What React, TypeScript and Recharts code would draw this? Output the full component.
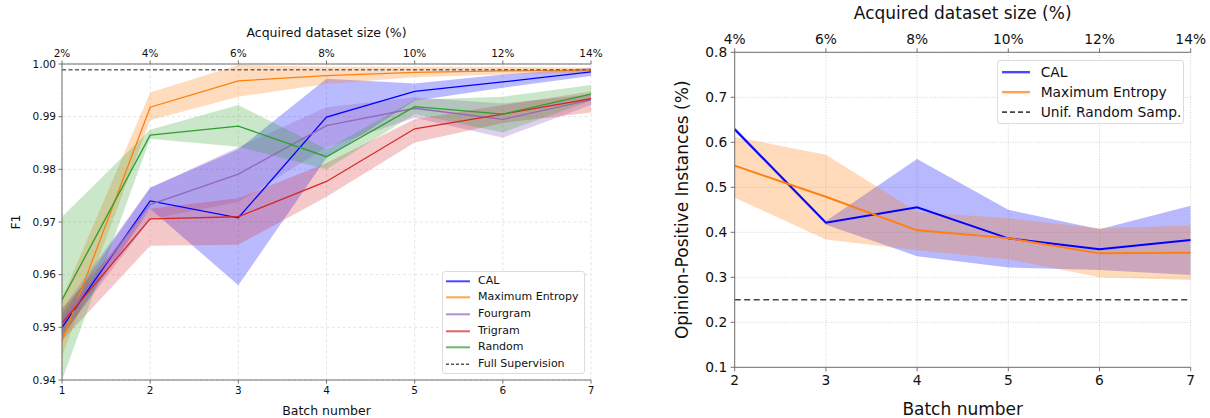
import React from 'react';
import {
  ComposedChart,
  Line,
  Area,
  XAxis,
  YAxis,
  CartesianGrid,
  ReferenceLine,
  Legend,
} from 'recharts';

const FONT = '"DejaVu Sans", Verdana, sans-serif';
const TEXT = '#111111';
const SPINE = '#707070';

// ---------------- Left chart data (F1 per batch) ----------------
const leftBatches = [1, 2, 3, 4, 5, 6, 7];
const leftTopLabels = ['2%', '4%', '6%', '8%', '10%', '12%', '14%'];
const leftYTicks = [0.94, 0.95, 0.96, 0.97, 0.98, 0.99, 1.0];

const calF1 = [0.95, 0.974, 0.9708, 0.9899, 0.9948, 0.9966, 0.9985];
const calF1Low = [0.948, 0.9725, 0.958, 0.9822, 0.993, 0.9955, 0.9977];
const calF1High = [0.9525, 0.9765, 0.9838, 0.9972, 0.9963, 0.998, 0.9993];

const maxEntF1 = [0.9474, 0.9918, 0.9968, 0.9978, 0.9984, 0.9987, 0.9988];
const maxEntF1Low = [0.9445, 0.9893, 0.9938, 0.9962, 0.9975, 0.998, 0.9984];
const maxEntF1High = [0.9555, 0.9946, 0.9998, 0.9995, 0.9995, 0.9995, 0.9993];

const fourgramF1 = [0.9512, 0.9733, 0.9791, 0.9883, 0.9916, 0.9895, 0.9932];
const fourgramF1Low = [0.9485, 0.9705, 0.9738, 0.9842, 0.9898, 0.986, 0.9922];
const fourgramF1High = [0.9535, 0.9765, 0.9842, 0.9918, 0.9937, 0.9925, 0.9942];

const trigramF1 = [0.9508, 0.9706, 0.971, 0.9777, 0.9877, 0.9905, 0.9934];
const trigramF1Low = [0.9475, 0.9655, 0.9657, 0.9748, 0.9851, 0.9888, 0.9908];
const trigramF1High = [0.9535, 0.9725, 0.9745, 0.9812, 0.9895, 0.9922, 0.9948];

const randomF1 = [0.9552, 0.9865, 0.9882, 0.9824, 0.9919, 0.9905, 0.9943];
const randomF1Low = [0.94, 0.9858, 0.9843, 0.98, 0.9905, 0.987, 0.993];
const randomF1High = [0.971, 0.9875, 0.9922, 0.9838, 0.9932, 0.9938, 0.996];

const fullSupervisionF1 = 0.9989;

// ---------------- Right chart data (opinion-positive share) ----------------
const rightBatches = [2, 3, 4, 5, 6, 7];
const rightTopLabels = ['4%', '6%', '8%', '10%', '12%', '14%'];
const rightYTicks = [0.1, 0.2, 0.3, 0.4, 0.5, 0.6, 0.7, 0.8];

const calPos = [0.629, 0.4213, 0.4556, 0.3867, 0.3622, 0.3829];
const calPosLow = [0.624, 0.417, 0.347, 0.322, 0.316, 0.305];
const calPosHigh = [0.634, 0.425, 0.563, 0.45, 0.407, 0.459];

const maxEntPos = [0.548, 0.479, 0.4044, 0.387, 0.3533, 0.3547];
const maxEntPosLow = [0.477, 0.384, 0.36, 0.34, 0.3, 0.294];
const maxEntPosHigh = [0.612, 0.5725, 0.445, 0.431, 0.409, 0.415];

const uniformRandomShare = 0.25;

// ---------------- Series configuration ----------------
type Series = {
  key: string;
  name: string;
  color: string;
  bandOpacity: number;
  mean: number[];
  low: number[];
  high: number[];
};

const leftSeries: Series[] = [
  { key: 'cal', name: 'CAL', color: '#0000ff', bandOpacity: 0.27, mean: calF1, low: calF1Low, high: calF1High },
  { key: 'me', name: 'Maximum Entropy', color: '#ff7f0e', bandOpacity: 0.27, mean: maxEntF1, low: maxEntF1Low, high: maxEntF1High },
  { key: 'four', name: 'Fourgram', color: '#9467bd', bandOpacity: 0.3, mean: fourgramF1, low: fourgramF1Low, high: fourgramF1High },
  { key: 'tri', name: 'Trigram', color: '#d62728', bandOpacity: 0.25, mean: trigramF1, low: trigramF1Low, high: trigramF1High },
  { key: 'rand', name: 'Random', color: '#2ca02c', bandOpacity: 0.25, mean: randomF1, low: randomF1Low, high: randomF1High },
];

const rightSeries: Series[] = [
  { key: 'cal', name: 'CAL', color: '#0000ff', bandOpacity: 0.28, mean: calPos, low: calPosLow, high: calPosHigh },
  { key: 'me', name: 'Maximum Entropy', color: '#ff7f0e', bandOpacity: 0.28, mean: maxEntPos, low: maxEntPosLow, high: maxEntPosHigh },
];

function buildRows(batches: number[], series: Series[]) {
  return batches.map((b, i) => {
    const row: Record<string, any> = { batch: b };
    series.forEach((s) => {
      row[s.key] = s.mean[i];
      row[s.key + 'Band'] = [s.low[i], s.high[i]];
    });
    return row;
  });
}

const leftRows = buildRows(leftBatches, leftSeries);
const rightRows = buildRows(rightBatches, rightSeries);

type LegendEntry = { name: string; color: string; dashed?: boolean };

function LegendBox(props: {
  entries: LegendEntry[];
  fontSize: number;
  rowHeight: number;
  padTop: number;
  sampleLeft: number;
  sampleWidth: number;
  textLeft: number;
  lineWidth: number;
  dash: string;
}) {
  const { entries, fontSize, rowHeight, padTop, sampleLeft, sampleWidth, textLeft, lineWidth, dash } = props;
  return (
    <div
      style={{
        boxSizing: 'border-box',
        width: '100%',
        height: '100%',
        border: '1px solid #dcdcdc',
        borderRadius: 3,
        background: 'rgba(255,255,255,0.85)',
        paddingTop: padTop,
        fontFamily: FONT,
        fontSize,
        color: TEXT,
      }}
    >
      {entries.map((e) => (
        <div key={e.name} style={{ position: 'relative', height: rowHeight, whiteSpace: 'nowrap' }}>
          <svg
            width={sampleWidth}
            height={rowHeight}
            style={{ position: 'absolute', left: sampleLeft - 1, top: 0 }}
          >
            <line
              x1={0}
              x2={sampleWidth}
              y1={rowHeight / 2}
              y2={rowHeight / 2}
              stroke={e.color}
              strokeOpacity={e.dashed ? 1 : 0.72}
              strokeWidth={e.dashed ? lineWidth * 0.7 : lineWidth}
              strokeDasharray={e.dashed ? dash : undefined}
            />
          </svg>
          <span
            style={{
              position: 'absolute',
              left: textLeft - 1,
              top: 0,
              lineHeight: rowHeight + 'px',
            }}
          >
            {e.name}
          </span>
        </div>
      ))}
    </div>
  );
}

const leftLegendEntries: LegendEntry[] = [
  ...leftSeries.map((s) => ({ name: s.name, color: s.color })),
  { name: 'Full Supervision', color: '#555555', dashed: true },
];

const rightLegendEntries: LegendEntry[] = [
  ...rightSeries.map((s) => ({ name: s.name, color: s.color })),
  { name: 'Unif. Random Samp.', color: '#444444', dashed: true },
];

function LeftChart() {
  const tickStyle = { fill: TEXT, fontSize: 10.5, fontFamily: FONT };
  const labelStyle = { fill: TEXT, fontSize: 12.5, fontFamily: FONT, textAnchor: 'middle' as const };
  return (
    <ComposedChart
      width={610}
      height={418}
      data={leftRows}
      margin={{ top: 0, right: 19, bottom: 0, left: 12 }}
    >
      <CartesianGrid xAxisId="b" yAxisId="l" stroke="#dedede" strokeDasharray="3 2.5" strokeWidth={0.8} />
      <XAxis
        xAxisId="b"
        dataKey="batch"
        type="number"
        domain={[1, 7]}
        ticks={leftBatches}
        orientation="bottom"
        height={38}
        tickSize={3.5}
        tickMargin={2.7}
        stroke={SPINE}
        tick={tickStyle}
        allowDataOverflow
        label={{ value: 'Batch number', position: 'insideBottom', offset: 2.7, style: labelStyle }}
      />
      <XAxis
        xAxisId="t"
        dataKey="batch"
        type="number"
        domain={[1, 7]}
        ticks={leftBatches}
        orientation="top"
        height={64}
        tickSize={3.5}
        tickMargin={4}
        stroke={SPINE}
        tick={tickStyle}
        tickFormatter={(v: number) => leftTopLabels[leftBatches.indexOf(v)]}
        allowDataOverflow
        label={{ value: 'Acquired dataset size (%)', position: 'insideTop', offset: 28.5, style: labelStyle }}
      />
      <YAxis
        yAxisId="l"
        type="number"
        domain={[0.94, 1.0]}
        ticks={leftYTicks}
        width={50}
        tickSize={3.5}
        tickMargin={2.5}
        stroke={SPINE}
        tick={tickStyle}
        tickFormatter={(v: number) => v.toFixed(2)}
        allowDataOverflow
        label={{ value: 'F1', angle: -90, position: 'insideLeft', offset: 4, style: labelStyle }}
      />
      <YAxis yAxisId="r" orientation="right" type="number" domain={[0.94, 1.0]} ticks={[]} width={0} tick={false} stroke={SPINE} />
      {leftSeries.map((s) => (
        <Area
          key={s.key + 'Band'}
          xAxisId="b"
          yAxisId="l"
          type="linear"
          dataKey={s.key + 'Band'}
          stroke="none"
          fill={s.color}
          fillOpacity={s.bandOpacity}
          isAnimationActive={false}
          dot={false}
          activeDot={false}
          legendType="none"
        />
      ))}
      {leftSeries.map((s) => (
        <Line
          key={s.key}
          xAxisId="b"
          yAxisId="l"
          type="linear"
          dataKey={s.key}
          name={s.name}
          stroke={s.color}
          strokeWidth={1.3}
          dot={false}
          activeDot={false}
          isAnimationActive={false}
        />
      ))}
      <ReferenceLine
        xAxisId="b"
        yAxisId="l"
        y={fullSupervisionF1}
        stroke="#666666"
        strokeWidth={1.4}
        strokeDasharray="4 2.5"
      />
      <Legend
        layout="vertical"
        align="center"
        verticalAlign="middle"
        wrapperStyle={{ left: 442, top: 271, width: 143, height: 103 }}
        content={() => (
          <LegendBox
            entries={leftLegendEntries}
            fontSize={11}
            rowHeight={16.6}
            padTop={0.8}
            sampleLeft={4}
            sampleWidth={24}
            textLeft={36}
            lineWidth={2}
            dash="3 2"
          />
        )}
      />
    </ComposedChart>
  );
}

function RightChart() {
  const tickStyle = { fill: TEXT, fontSize: 13.8, fontFamily: FONT };
  const labelStyle = { fill: TEXT, fontSize: 17, fontFamily: FONT, textAnchor: 'middle' as const };
  return (
    <ComposedChart
      width={590}
      height={418}
      data={rightRows}
      margin={{ top: 0, right: 19.3, bottom: 0, left: 24.7 }}
    >
      <CartesianGrid xAxisId="b" yAxisId="l" stroke="#cfcfcf" strokeDasharray="1 1.6" strokeWidth={0.9} />
      <XAxis
        xAxisId="b"
        dataKey="batch"
        type="number"
        domain={[2, 7]}
        ticks={rightBatches}
        orientation="bottom"
        height={50.7}
        tickSize={4}
        tickMargin={3.7}
        stroke={SPINE}
        tick={tickStyle}
        allowDataOverflow
        label={{ value: 'Batch number', position: 'insideBottom', offset: 2.8, style: labelStyle }}
      />
      <XAxis
        xAxisId="t"
        dataKey="batch"
        type="number"
        domain={[2, 7]}
        ticks={rightBatches}
        orientation="top"
        height={52.3}
        tickSize={4}
        tickMargin={4}
        stroke={SPINE}
        tick={tickStyle}
        tickFormatter={(v: number) => rightTopLabels[rightBatches.indexOf(v)]}
        allowDataOverflow
        label={{ value: 'Acquired dataset size (%)', position: 'insideTop', offset: 7, style: labelStyle }}
      />
      <YAxis
        yAxisId="l"
        type="number"
        domain={[0.1, 0.8]}
        ticks={rightYTicks}
        width={90}
        tickSize={4}
        tickMargin={3.4}
        stroke={SPINE}
        tick={tickStyle}
        tickFormatter={(v: number) => v.toFixed(1)}
        allowDataOverflow
        label={{
          value: 'Opinion-Positive Instances (%)',
          angle: -90,
          position: 'insideLeft',
          offset: 37,
          style: labelStyle,
        }}
      />
      <YAxis yAxisId="r" orientation="right" type="number" domain={[0.1, 0.8]} ticks={[]} width={0} tick={false} stroke={SPINE} />
      {rightSeries.map((s) => (
        <Area
          key={s.key + 'Band'}
          xAxisId="b"
          yAxisId="l"
          type="linear"
          dataKey={s.key + 'Band'}
          stroke="none"
          fill={s.color}
          fillOpacity={s.bandOpacity}
          isAnimationActive={false}
          dot={false}
          activeDot={false}
          legendType="none"
        />
      ))}
      {rightSeries.map((s) => (
        <Line
          key={s.key}
          xAxisId="b"
          yAxisId="l"
          type="linear"
          dataKey={s.key}
          name={s.name}
          stroke={s.color}
          strokeWidth={1.9}
          dot={false}
          activeDot={false}
          isAnimationActive={false}
        />
      ))}
      <ReferenceLine
        xAxisId="b"
        yAxisId="l"
        y={uniformRandomShare}
        stroke="#444444"
        strokeWidth={1.6}
        strokeDasharray="6 3.5"
      />
      <Legend
        layout="vertical"
        align="center"
        verticalAlign="middle"
        wrapperStyle={{ left: 376.7, top: 60, width: 187.3, height: 64 }}
        content={() => (
          <LegendBox
            entries={rightLegendEntries}
            fontSize={13.8}
            rowHeight={20.3}
            padTop={0.5}
            sampleLeft={5}
            sampleWidth={28}
            textLeft={44}
            lineWidth={2.4}
            dash="5 3"
          />
        )}
      />
    </ComposedChart>
  );
}

export default function App() {
  return (
    <div style={{ position: 'absolute', left: 0, top: 0, width: 1210, height: 418, background: '#ffffff' }}>
      <div style={{ position: 'absolute', left: 0, top: 0 }}>
        <LeftChart />
      </div>
      <div style={{ position: 'absolute', left: 620, top: 0 }}>
        <RightChart />
      </div>
    </div>
  );
}
